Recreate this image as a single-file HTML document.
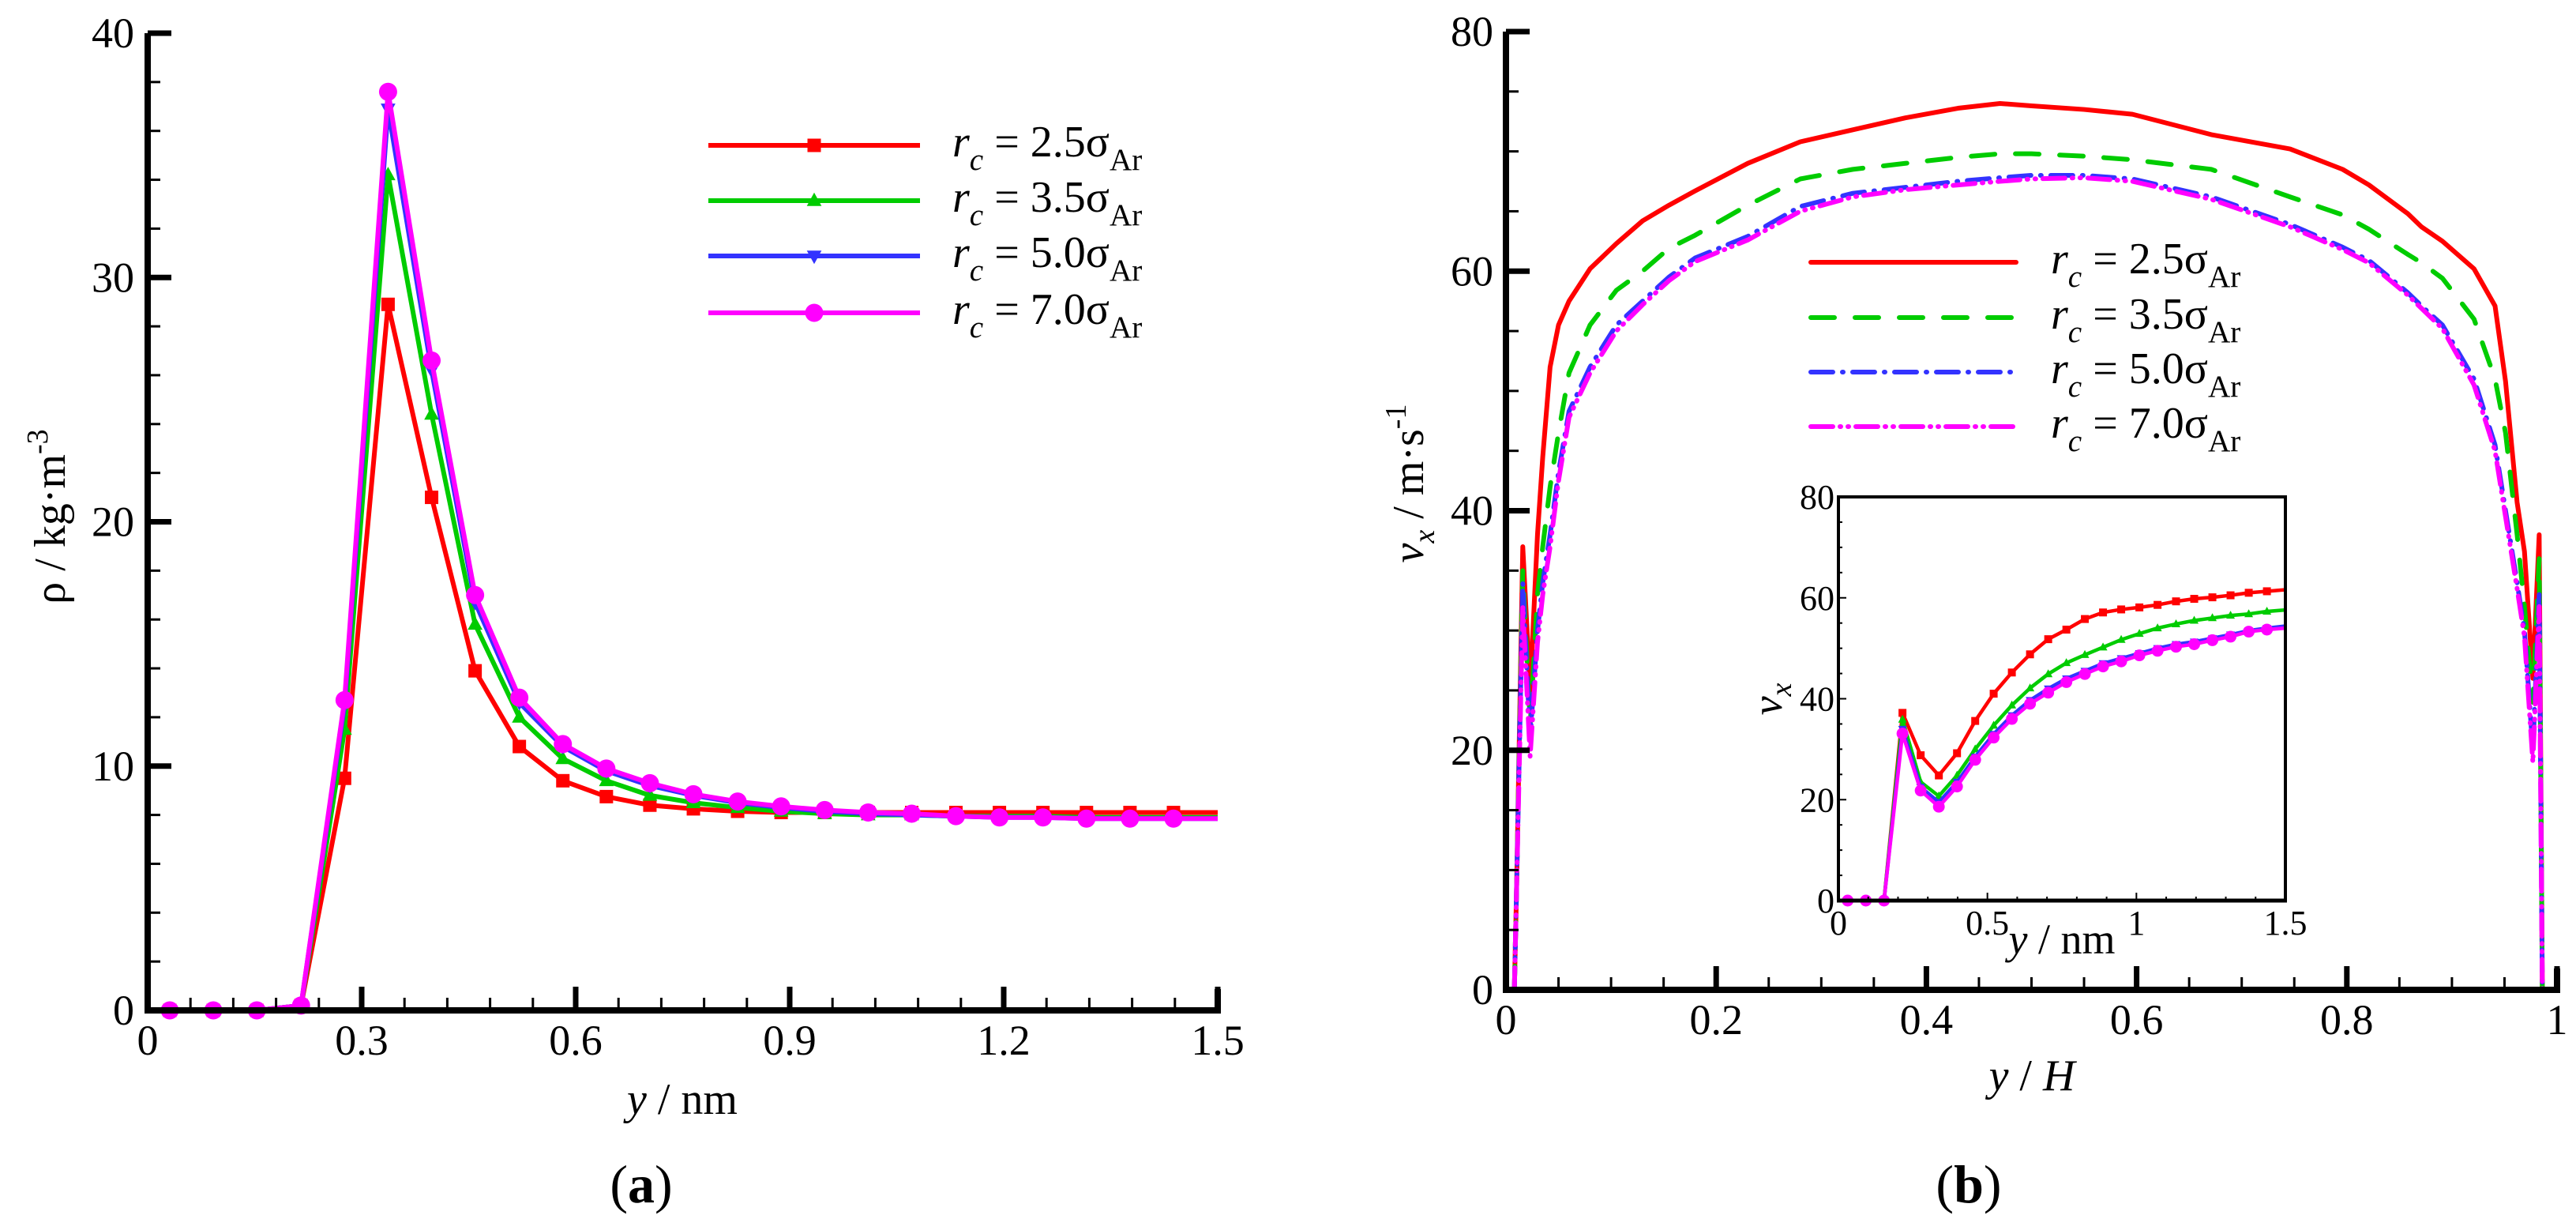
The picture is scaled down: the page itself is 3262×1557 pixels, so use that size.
<!DOCTYPE html>
<html><head><meta charset="utf-8"><style>
html,body{margin:0;padding:0;background:#fff}
svg{display:block}
svg text{font-family:"Liberation Serif","Times New Roman","DejaVu Serif",serif;fill:#000}
</style></head><body>
<svg id="fig" xmlns="http://www.w3.org/2000/svg" width="3262" height="1557" viewBox="0 0 3262 1557" font-family="'Liberation Serif', 'DejaVu Serif', serif">
<rect width="3262" height="1557" fill="#fff"/>
<g id="pa"></g>
<g id="pb"></g>
<g id="pi"></g>
</svg>
<script>
// ---------- Panel (a) data ----------
const aX = [0.031,0.092,0.153,0.215,0.276,0.337,0.398,0.459,0.521,0.582,0.643,0.704,0.765,0.827,0.888,0.949,1.010,1.071,1.133,1.194,1.255,1.316,1.377,1.438];
const aRed = [0,0,0,0.2,9.5,28.9,21.0,13.9,10.8,9.4,8.75,8.4,8.25,8.15,8.1,8.1,8.1,8.1,8.1,8.1,8.1,8.1,8.1,8.1];
const aGreen = [0,0,0,0.2,11.5,34.2,24.4,15.8,12.0,10.3,9.4,8.8,8.5,8.3,8.15,8.05,8.0,8.0,7.95,7.95,7.95,7.9,7.9,7.9];
const aBlue = [0,0,0,0.2,12.5,36.9,26.2,16.7,12.6,10.8,9.8,9.2,8.8,8.5,8.3,8.15,8.05,8.0,7.95,7.9,7.9,7.85,7.85,7.85];
const aMag = [0,0,0,0.2,12.7,37.6,26.6,17.0,12.8,10.9,9.9,9.3,8.85,8.55,8.35,8.2,8.1,8.05,7.95,7.9,7.9,7.85,7.85,7.85];
const aXTicks = [0,0.3,0.6,0.9,1.2,1.5];
const aXTickLabels = ["0","0.3","0.6","0.9","1.2","1.5"];
const aYTicks = [0,10,20,30,40];
const aYTickLabels = ["0","10","20","30","40"];
// ---------- Panel (b) data ----------
const bX = [0.008,0.010,0.016,0.023,0.030,0.035,0.042,0.050,0.060,0.080,0.105,0.130,0.155,0.180,0.230,0.280,0.330,0.380,0.430,0.470,0.500,0.550,0.596,0.671,0.746,0.796,0.821,0.858,0.871,0.891,0.921,0.941,0.951,0.962,0.969,0.977,0.983,0.986];
const bRed = [0,8,37,25,38,44.5,52,55.5,57.5,60.2,62.3,64.2,65.5,66.7,69,70.8,71.8,72.8,73.6,74,73.8,73.5,73.1,71.4,70.2,68.5,67.2,64.8,63.7,62.5,60.2,57.1,50.8,40.7,36.6,26,38,0];
const bGreen = [0,8,35,22,33,37,42,46.5,51.5,55.5,58.4,60,61.9,63,65.5,67.7,68.5,69,69.5,69.8,69.8,69.6,69.3,68.5,66.2,64.7,63.5,61.4,60.7,59.4,56,51,46.5,38,32,24,36,0];
const bBlue = [0,8,34,21,30,34,38,43.2,48.3,52,55.5,57.5,59.5,61.1,62.9,65.4,66.5,67,67.5,67.8,68,68,67.7,66.2,63.9,62,60.9,58.2,57.1,55.5,51,45.5,40,34,30,20,33,0];
const bMag = [0,8,32,19.5,29,33,37,42.5,47.8,51.5,55,57.2,59.2,60.8,62.6,65,66.2,66.8,67.2,67.5,67.7,67.8,67.5,66,63.7,61.8,60.7,58,56.9,55.2,50.5,45,39.5,33.5,29.5,19,32,0];
const bXTicks = [0,0.2,0.4,0.6,0.8,1];
const bXTickLabels = ["0","0.2","0.4","0.6","0.8","1"];
const bYTicks = [0,20,40,60,80];
const bYTickLabels = ["0","20","40","60","80"];
// ---------- Inset data ----------
const iX = [0.031,0.092,0.153,0.215,0.276,0.337,0.398,0.459,0.521,0.582,0.643,0.704,0.765,0.827,0.888,0.949,1.010,1.071,1.133,1.194,1.255,1.316,1.377,1.438,1.5];
const iRed = [0,0,0,37.2,28.8,24.8,29.2,35.6,41,45.2,48.8,51.8,53.7,55.8,57.1,57.7,58.1,58.6,59.3,59.8,60.1,60.5,61,61.3,61.6];
const iGreen = [0,0,0,35.9,23.5,20.7,24.8,30,34.7,38.7,42.1,44.9,47.1,48.7,50.2,51.7,52.9,54,54.8,55.5,56,56.5,56.8,57.3,57.6];
const iBlue = [0,0,0,34,22.5,19.5,23.5,28.5,33,36.7,39.7,42,44,45.5,47,48,49,50,50.8,51.3,52,52.7,53.5,54,54.4];
const iMag = [0,0,0,33.1,21.8,18.6,22.6,27.9,32.3,36,39,41.2,43.3,44.9,46.4,47.4,48.6,49.5,50.3,50.8,51.6,52.3,53.3,53.7,54];
const iXTicks = [0,0.5,1,1.5];
const iXTickLabels = ["0","0.5","1","1.5"];
const iYTicks = [0,20,40,60,80];
const iYTickLabels = ["0","20","40","60","80"];
const legendLabels = ["2.5","3.5","5.0","7.0"];

const NS="http://www.w3.org/2000/svg";
const FONT="'Liberation Serif', 'DejaVu Serif', serif";
function mk(parent,tag,attrs){const e=document.createElementNS(NS,tag);for(const k in attrs)e.setAttribute(k,attrs[k]);if(tag==="text")e.setAttribute("font-family",FONT);parent.appendChild(e);return e;}
const colors=["#ff0000","#00cc00","#3333ff","#ff00ff"];

const ax=v=>187+v/1.5*(1542-187), ay=v=>1279-v/40*(1279-42);
const bx=v=>1907+v*(3238-1907), by=v=>1253-v/80*(1253-40);
const ix=v=>2328+v/1.5*(2894-2328), iy=v=>1140-v/80*(1140-629);

function marker(g,type,x,y,s,c){
  let e;
  if(type==="sq") e=mk(g,"rect",{x:x-s,y:y-s,width:2*s,height:2*s,fill:c});
  else if(type==="tu") e=mk(g,"polygon",{points:`${x},${y-s*1.2} ${x-s*1.1},${y+s*0.8} ${x+s*1.1},${y+s*0.8}`,fill:c});
  else if(type==="td") e=mk(g,"polygon",{points:`${x},${y+s*1.2} ${x-s*1.1},${y-s*0.8} ${x+s*1.1},${y-s*0.8}`,fill:c});
  else e=mk(g,"circle",{cx:x,cy:y,r:s*1.15,fill:c});
  
  
}
const mtypes=["sq","tu","td","ci"];

function legendText(g,x,y,lab,fs){
  const t=mk(g,"text",{x:x,y:y,"font-size":fs});
  
  
  t.innerHTML=`<tspan font-style="italic">r</tspan><tspan font-style="italic" font-size="${fs*0.7}" dy="${fs*0.3}">c</tspan><tspan dy="${-fs*0.3}"> = ${lab}σ</tspan><tspan font-size="${fs*0.7}" dy="${fs*0.3}">Ar</tspan>`;
}

// ---------- Panel a ----------
const pa=document.getElementById('pa');
{
  const sets=[aRed,aGreen,aBlue,aMag];
  sets.forEach((s,k)=>{
    const g=mk(pa,"g",{});
    
    
    const pl=mk(g,"polyline",{points:aX.map((x,i)=>ax(x)+","+ay(s[i])).join(" ")+" "+ax(1.5)+","+ay(s[s.length-1]),fill:"none",stroke:colors[k],"stroke-width":6,"stroke-linejoin":"round"});
    
    
    aX.forEach((x,i)=>marker(g,mtypes[k],ax(x),ay(s[i]),k===3?10:8.5,colors[k]));
  });
  const axg=mk(pa,"g",{});
  
  
  mk(axg,"path",{d:`M187,42 V1279 H1542 V1252`,fill:"none",stroke:"#000","stroke-width":8});
  for(let v=0;v<=40.001;v+=2){const maj=Math.abs(v%10)<0.01;mk(axg,"line",{x1:187,x2:187+(maj?30:16),y1:ay(v),y2:ay(v),stroke:"#000","stroke-width":maj?7:3});}
  for(let v=0;v<=1.5001;v+=0.06){const maj=Math.abs(v/0.3-Math.round(v/0.3))<0.01;mk(axg,"line",{x1:ax(v),x2:ax(v),y1:1279,y2:1279-(maj?30:16),stroke:"#000","stroke-width":maj?7:3});}
  aYTicks.forEach((v,i)=>{const t=mk(axg,"text",{x:170,y:ay(v)+18,"font-size":54,"text-anchor":"end"});t.textContent=aYTickLabels[i];});
  aXTicks.forEach((v,i)=>{const t=mk(axg,"text",{x:ax(v),y:1335,"font-size":54,"text-anchor":"middle"});t.textContent=aXTickLabels[i];});
  const xt=mk(axg,"text",{x:864,y:1410,"font-size":56,"text-anchor":"middle"});
  xt.innerHTML='<tspan font-style="italic">y</tspan> / nm';
  
  const yt=mk(axg,"text",{x:0,y:0,"font-size":56,"text-anchor":"middle",transform:"translate(82,654) rotate(-90)"});
  yt.innerHTML='ρ / kg·m<tspan font-size="38" dy="-22">-3</tspan>';
  
  const cap=mk(axg,"text",{x:812,y:1522,"font-size":68,"text-anchor":"middle"});
  cap.innerHTML='(<tspan font-weight="bold">a</tspan>)';
  
  const lg=mk(pa,"g",{});
  
  
  [184,254,324,396].forEach((y,k)=>{
    const l=mk(lg,"line",{x1:897,x2:1165,y1:y,y2:y,stroke:colors[k],"stroke-width":6});
    
    marker(lg,mtypes[k],1031,y,k===3?10:8.5,colors[k]);
    legendText(lg,1206,y+14,legendLabels[k],56);
  });
}

// ---------- Panel b ----------
const pb=document.getElementById('pb');
{
  const sets=[bRed,bGreen,bBlue,bMag];
  const dashes=["none","30 26","28 12 1 12","28 9 1 9 1 9"];
  sets.forEach((s,k)=>{
    const pl=mk(pb,"polyline",{points:bX.map((x,i)=>bx(x)+","+by(s[i])).join(" "),fill:"none",stroke:colors[k],"stroke-width":6,"stroke-dasharray":dashes[k],"stroke-linecap":"round","stroke-linejoin":"round"});
    
    
  });
  const axg=mk(pb,"g",{});
  
  
  mk(axg,"path",{d:`M1907,40 V1253 H3238 V1226`,fill:"none",stroke:"#000","stroke-width":8});
  for(let v=0;v<=80.001;v+=5){const maj=Math.abs(v%20)<0.01;mk(axg,"line",{x1:1907,x2:1907+(maj?30:16),y1:by(v),y2:by(v),stroke:"#000","stroke-width":maj?7:3});}
  for(let v=0;v<=1.0001;v+=0.05){const maj=Math.abs(v/0.2-Math.round(v/0.2))<0.01;mk(axg,"line",{x1:bx(v),x2:bx(v),y1:1253,y2:1253-(maj?30:16),stroke:"#000","stroke-width":maj?7:3});}
  bYTicks.forEach((v,i)=>{const t=mk(axg,"text",{x:1891,y:by(v)+18,"font-size":54,"text-anchor":"end"});t.textContent=bYTickLabels[i];});
  bXTicks.forEach((v,i)=>{const t=mk(axg,"text",{x:bx(v),y:1309,"font-size":54,"text-anchor":"middle"});t.textContent=bXTickLabels[i];});
  const xt=mk(axg,"text",{x:2573,y:1380,"font-size":56,"text-anchor":"middle"});
  xt.innerHTML='<tspan font-style="italic">y</tspan> / <tspan font-style="italic">H</tspan>';
  
  const yt=mk(axg,"text",{x:0,y:0,"font-size":56,"text-anchor":"middle",transform:"translate(1802,612) rotate(-90)"});
  yt.innerHTML='<tspan font-style="italic">v</tspan><tspan font-style="italic" font-size="38" dy="14">x</tspan><tspan dy="-14"> / m·s</tspan><tspan font-size="38" dy="-22">-1</tspan>';
  
  const cap=mk(axg,"text",{x:2493,y:1522,"font-size":68,"text-anchor":"middle"});
  cap.innerHTML='(<tspan font-weight="bold">b</tspan>)';
  
  const lg=mk(pb,"g",{});
  
  
  [332,402,471,540].forEach((y,k)=>{
    const l=mk(lg,"line",{x1:2293,x2:2553,y1:y,y2:y,stroke:colors[k],"stroke-width":6,"stroke-dasharray":dashes[k],"stroke-linecap":"round"});
    
    legendText(lg,2597,y+14,legendLabels[k],56);
  });
}

// ---------- Inset ----------
const pi=document.getElementById('pi');
{
  mk(pi,"rect",{x:2328,y:629,width:566,height:511,fill:"#fff"});
  const sets=[iRed,iGreen,iBlue,iMag];
  sets.forEach((s,k)=>{
    const g=mk(pi,"g",{});
    
    
    const pl=mk(g,"polyline",{points:iX.map((x,i)=>ix(x)+","+iy(s[i])).join(" "),fill:"none",stroke:colors[k],"stroke-width":4.5,"stroke-linejoin":"round"});
    
    iX.forEach((x,i)=>{if(x<1.45)marker(g,mtypes[k],ix(x),iy(s[i]),k===3?6.5:5,colors[k]);});
  });
  const axg=mk(pi,"g",{});
  
  
  mk(axg,"rect",{x:2328,y:629,width:566,height:511,fill:"none",stroke:"#000","stroke-width":4});
  mk(axg,"line",{x1:2326,x2:2896,y1:1140,y2:1140,stroke:"#000","stroke-width":5});
  for(let v=0;v<=80.001;v+=5){const maj=Math.abs(v%20)<0.01;mk(axg,"line",{x1:2328,x2:2328+(maj?10:5),y1:iy(v),y2:iy(v),stroke:"#000","stroke-width":2});}
  for(let v=0;v<=1.5001;v+=0.1){const maj=Math.abs(v/0.5-Math.round(v/0.5))<0.01;mk(axg,"line",{x1:ix(v),x2:ix(v),y1:1140,y2:1140-(maj?10:5),stroke:"#000","stroke-width":2});}
  iYTicks.forEach((v,i)=>{const t=mk(axg,"text",{x:2323,y:iy(v)+15,"font-size":44,"text-anchor":"end"});t.textContent=iYTickLabels[i];});
  iXTicks.forEach((v,i)=>{const t=mk(axg,"text",{x:ix(v),y:1183,"font-size":44,"text-anchor":"middle"});t.textContent=iXTickLabels[i];});
  const xt=mk(axg,"text",{x:2611,y:1207,"font-size":54,"text-anchor":"middle"});
  xt.innerHTML='<tspan font-style="italic">y</tspan> / nm';
  
  const yt=mk(axg,"text",{x:0,y:0,"font-size":54,"text-anchor":"middle",transform:"translate(2256,885) rotate(-90)"});
  yt.innerHTML='<tspan font-style="italic">v</tspan><tspan font-style="italic" font-size="38" dy="12">x</tspan>';
  
}
</script>
</body></html>
